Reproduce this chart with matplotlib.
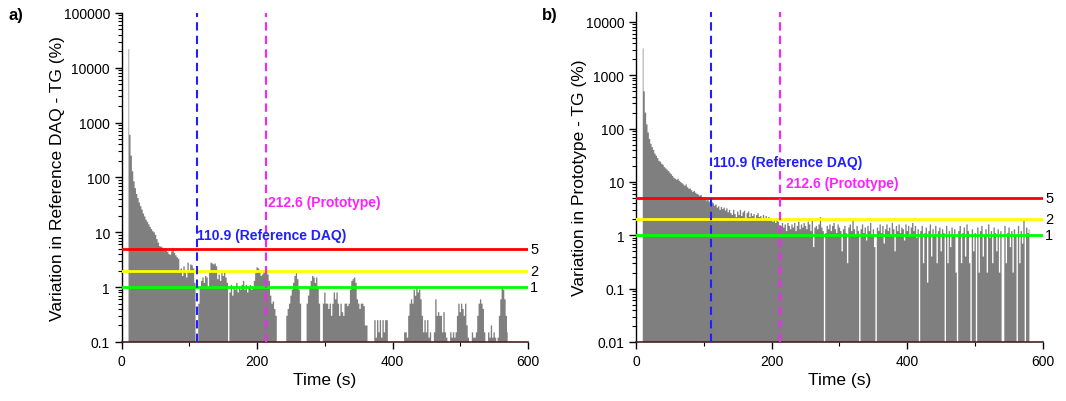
import numpy as np
import matplotlib
matplotlib.use("Agg")
import matplotlib.pyplot as plt
from matplotlib.ticker import FixedLocator, FuncFormatter, NullFormatter

plt.rcParams['font.family'] = ['Liberation Sans', 'DejaVu Sans']

G = 0.001  # gap (below axis)

# ---- Panel a: Reference DAQ vs TG, t = 10..570 s every 2 s ----
t_a_start, t_a_step = 10, 2
var_ref = [
    22000, 600, 250, 130, 85, 64, 50, 42, 35, 30,
    26, 22, 19.5, 17, 15.5, 14, 12.5, 11.5, 10.5, 10,
    9, 7.5, 6.5, 5.6, 5.5, 5.3, 5.0, 5.0, 4.6, 4.4,
    4.0, 3.9, 4.5, 5.2, 4.2, 3.8, 3.5, 3.3, 1.9, 2.2,
    1.6, 2.4, 1.8, 1.5, 2.8, 1.9, 2.6, 2.5, 2.2, 1.2,
    G, G, 0.5, 0.95, 1.3, 1.5, 1.2, 1.6, 1.5, 1.0,
    2.0, 2.8, 2.7, 2.6, 2.7, 2.4, 1.4, 1.7, 1.3, 1.8,
    1.6, 1.9, 1.5, 1.2, G, 0.8, 1.1, 0.7, 1.0, 0.9,
    1.2, 0.8, 1.0, 0.9, 1.1, 1.3, 0.9, 1.1, 0.8, 1.0,
    1.1, 0.9, 1.0, 1.3, 1.8, 2.3, 2.2, 2.0, 1.6, 1.7,
    2.0, 1.9, 2.0, 1.7, 1.3, 0.7, 0.5, 0.55, 0.4, 0.3,
    G, G, G, G, G, G, G, 0.3, 0.4, 0.5,
    0.7, 0.9, 1.2, 1.6, 1.8, 1.4, 0.9, 0.5, G, G,
    G, G, 0.5, 0.7, 1.0, 1.3, 1.6, 1.5, 1.2, 1.5,
    1.0, 0.5, G, G, 0.5, 0.8, 0.5, 0.5, 0.4, 0.5,
    0.3, 0.5, 0.8, 0.6, 0.8, 0.5, 0.3, 0.5, 0.35, 0.3,
    0.5, 0.5, 0.45, 0.5, 0.9, 1.3, 1.4, 1.5, 1.2, 0.6,
    0.5, 0.4, 0.5, 0.5, 0.45, 0.2, 0.2, G, G, G,
    G, G, 0.25, 0.12, 0.25, 0.15, 0.25, 0.12, 0.25, 0.15,
    0.25, 0.25, G, G, G, G, G, G, G, G,
    G, G, G, G, 0.15, 0.15, 0.12, 0.3, 0.5, 0.6,
    0.5, 0.9, 0.7, 1.0, 0.8, 0.9, 0.6, 0.3, 0.15, 0.25,
    0.15, 0.25, 0.12, 0.15, G, G, 0.15, 0.6, 0.3, 0.35,
    0.3, 0.3, 0.15, 0.35, 0.15, 0.12, G, G, 0.15, 0.12,
    0.15, 0.12, 0.15, 0.3, 0.5, 0.35, 0.5, 0.4, 0.3, 0.5,
    0.2, 0.12, G, G, 0.15, 0.12, 0.12, 0.15, 0.3, 0.5,
    0.6, 0.5, 0.4, 0.15, G, G, 0.15, 0.12, 0.2, 0.12,
    0.15, 0.12, G, 0.12, 0.3, 0.6, 1.0, 0.9, 0.6, 0.3,
    0.15,
]

# ---- Panel b: Prototype vs TG, t = 10..580 s every 2 s ----
t_b_start, t_b_step = 10, 2
var_proto = [
    3200, 500, 200, 120, 85, 64, 52, 45, 40, 34,
    31, 28, 25, 24, 22, 21, 19, 18, 17, 16,
    15, 14, 13, 12, 11.5, 11, 11.5, 10.5, 10, 9.5,
    9, 8.5, 9, 8, 7.5, 7.5, 7, 6.5, 6.8, 6.3,
    6, 5.8, 5.5, 5.7, 5.2, 5, 5.2, 4.5, 4.8, 4.3,
    3.5, 4.2, 4.0, 3.6, 3.8, 3.3, 3.5, 3.0, 3.4, 3.1,
    3.3, 2.9, 3.2, 2.7, 3.0, 2.6, 2.4, 3.0, 2.5, 2.2,
    2.8, 2.4, 3.0, 2.3, 2.7, 2.9, 2.1, 2.6, 2.8, 2.2,
    2.6, 2.3, 2.5, 2.0, 2.4, 2.6, 2.2, 2.3, 1.9, 2.4,
    2.1, 2.3, 2.0, 2.2, 1.9, 2.1, 1.8, 2.0, 1.7, 1.9,
    1.8, 1.15, 1.5, 1.7, 1.4, 1.6, 1.2, 1.7, 1.5, 1.3,
    1.6, 1.4, 1.7, 1.2, 1.5, 1.8, 1.3, 1.6, 1.4, 1.7,
    1.5, 1.3, 1.8, 1.6, 1.2, 1.9, 0.6, 1.4, 1.5, 1.3,
    1.6, 2.2, 1.4, 1.2, G, 1.1, 1.5, 1.3, 1.6, 1.2,
    1.5, 1.7, 1.3, 1.1, 1.6, 1.4, 1.2, 0.5, 1.3, 1.5,
    1.1, 0.3, 1.4, 1.6, 1.2, 1.9, 1.3, 1.0, 1.5, 1.2,
    G, 1.3, 1.6, 1.1, 1.4, 0.8, 1.5, 1.2, 1.7, 1.0,
    1.3, 0.6, G, 1.4, 1.2, 1.6, 1.1, 1.5, 0.7, 1.3,
    1.6, 1.2, 1.4, 1.0, 1.7, 1.3, 0.5, 1.5, 1.2, 1.6,
    1.1, 1.4, 1.3, 0.8, 1.6, 1.2, 1.5, 1.0, 1.4, 1.7,
    1.2, 1.5, 0.9, 1.3, G, 1.2, 1.5, 0.3, 1.1, 1.4,
    0.13, 1.2, 1.6, 0.4, 1.3, 1.0, 1.5, 0.3, 1.2, 1.4,
    0.5, 1.3, 1.1, G, 1.5, 0.3, 1.2, 0.6, 1.4, 1.0,
    1.3, 0.2, G, 1.2, 1.5, 0.3, 1.1, 1.4, 0.4, 1.6,
    1.2, 0.3, G, 1.3, 0.5, 1.1, G, 1.4, 0.2, 1.2,
    1.5, 0.4, 1.0, 1.3, 0.2, 1.6, 0.9, 1.2, 0.3, 1.4,
    1.1, 0.5, 1.3, 0.2, 1.2, G, G, 1.5, 0.3, 1.1,
    1.4, 0.6, 1.2, 0.2, 1.3, 1.0, G, 1.5, 0.3, 1.2,
    0.7, 1.9, G, 1.4, 1.1, 1.3,
]

thresholds = [5, 2, 1]
threshold_colors = ['#ff0000', '#ffff00', '#00ff00']
t_ref_daq = 110.9
t_proto = 212.6
label_ref = "110.9 (Reference DAQ)"
label_proto = "212.6 (Prototype)"

fig = plt.figure(figsize=(10.66, 4.02), dpi=100)
ax_a = fig.add_axes([0.1142, 0.1468, 0.3811, 0.8184])
ax_b = fig.add_axes([0.5966, 0.1468, 0.3818, 0.8209])


def fmt(v, pos):
    if v >= 1:
        return "%d" % round(v)
    return ("%g" % v)


def draw(ax, t0, dt, vals, ylim, ylabel, ref_pos, proto_pos):
    vals = np.array(vals, dtype=float)
    t = t0 + dt * np.arange(len(vals))
    ax.fill_between(t, 1e-5, vals, step='mid', color='#7f7f7f', lw=0)
    ax.set_yscale('log')
    ax.set_xlim(0, 600)
    ax.set_ylim(*ylim)
    for th, c in zip(thresholds, threshold_colors):
        ax.axhline(th, color=c, lw=2.0, zorder=3)
        ax.text(603, th, str(th), va='center', ha='left', fontsize=10.5,
                transform=ax.transData, clip_on=False)
    ax.axvline(t_ref_daq, color='#2020ff', lw=1.5, ls=(0, (4, 2.5)), zorder=4)
    ax.axvline(t_proto, color='#ff20ff', lw=1.5, ls=(0, (4, 2.5)), zorder=4)
    ax.text(ref_pos[0], ref_pos[1], label_ref, color='#2020ff', fontsize=10,
            fontweight='bold', va='center', ha='left', zorder=5)
    ax.text(proto_pos[0], proto_pos[1], label_proto, color='#ff20ff', fontsize=10,
            fontweight='bold', va='center', ha='left', zorder=5)
    ax.spines['top'].set_visible(False)
    ax.spines['right'].set_visible(False)
    ax.spines['bottom'].set_color('#4a2020')
    ax.spines['bottom'].set_linewidth(1.2)
    ax.spines['left'].set_linewidth(1.0)
    lo, hi = ylim
    e0, e1 = int(np.floor(np.log10(lo) + 1e-9)), int(np.floor(np.log10(hi) + 1e-9))
    majors = [10.0 ** e for e in range(e0, e1 + 1) if lo * 0.999 <= 10.0 ** e <= hi * 1.001]
    minors = [m * 10.0 ** e for e in range(e0, e1 + 1) for m in range(2, 10)
              if lo <= m * 10.0 ** e <= hi]
    ax.yaxis.set_major_locator(FixedLocator(majors))
    ax.yaxis.set_minor_locator(FixedLocator(minors))
    ax.yaxis.set_major_formatter(FuncFormatter(fmt))
    ax.yaxis.set_minor_formatter(NullFormatter())
    ax.xaxis.set_major_locator(FixedLocator([0, 200, 400, 600]))
    ax.xaxis.set_minor_locator(FixedLocator([100, 300, 500]))
    ax.tick_params(axis='both', which='major', labelsize=10, length=5, width=1)
    ax.tick_params(axis='both', which='minor', length=3, width=0.8)
    ax.set_xlabel("Time (s)", fontsize=12.5, labelpad=3)
    ax.set_ylabel(ylabel, fontsize=12.5, labelpad=-1)


draw(ax_a, t_a_start, t_a_step, var_ref, (0.1, 100000),
     "Variation in Reference DAQ - TG (%)", (111.5, 8.9), (216, 36))
draw(ax_b, t_b_start, t_b_step, var_proto, (0.01, 15400),
     "Variation in Prototype - TG (%)", (113, 24), (221, 9.5))

fig.text(0.008, 0.962, "a)", fontsize=12, fontweight='bold', va='center')
fig.text(0.508, 0.962, "b)", fontsize=12, fontweight='bold', va='center')

fig.savefig("out.png", dpi=100)
